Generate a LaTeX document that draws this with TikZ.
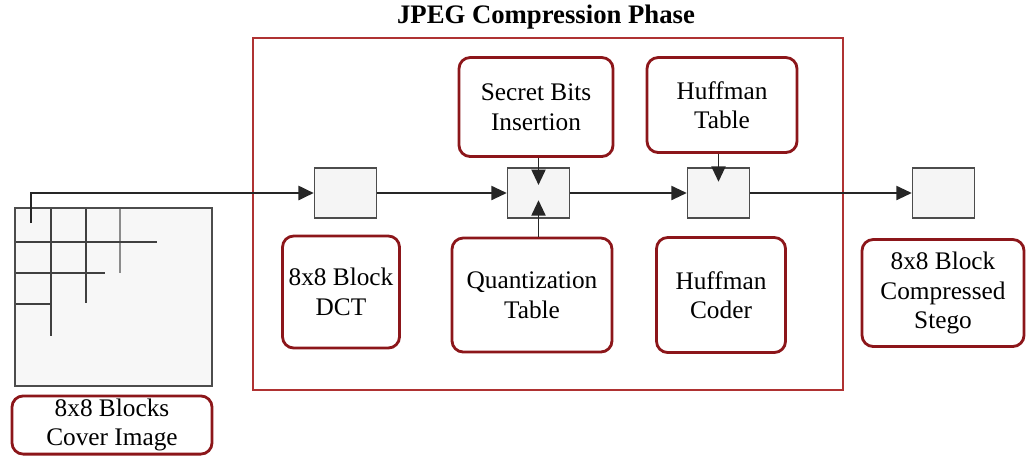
\documentclass[tikz,border=0pt]{standalone}
\usepackage{fontspec}
\setmainfont{Liberation Serif}
\usepackage{tikz}
\usetikzlibrary{arrows.meta,positioning,calc}
\usepackage{xcolor}
\definecolor{boxred}{RGB}{140,22,26}
\definecolor{framered}{RGB}{175,50,50}

\tikzset{
    redbox/.style={draw=boxred, line width=2pt, rounded corners=8pt, align=center,
        inner sep=2pt, font=\fontsize{18}{21}\selectfont},
    cell/.style={draw=black!70, fill=black!4, line width=1pt,
        minimum width=1.55cm, minimum height=1.25cm, inner sep=0pt},
    flow/.style={draw=black!85, line width=1.4pt, -{Triangle[length=11pt,width=10pt]}},
    gridline/.style={draw=black!75, line width=1.1pt}
}

\begin{document}
\begin{tikzpicture}[x=0.025cm, y=-0.025cm]
            \useasboundingbox (0,0) rectangle (1026,456);

            % JPEG compression phase frame
            \draw[framered, line width=1pt] (253,38) rectangle (843,390);
            \node[font=\bfseries\fontsize{19}{22}\selectfont] (title) at (546,17) {JPEG Compression Phase};

            % Cover image blocks
            \node[draw=black!70, fill=black!3, line width=1.2pt, minimum width=4.925cm, minimum height=4.45cm] (cover) at (113.5,297) {};
            \draw[gridline] (51,209) -- (51,336);
            \draw[gridline] (86,209) -- (86,303);
            \draw[gridline, black!45] (120,209) -- (120,273);
            \draw[gridline] (16,242) -- (157,242);
            \draw[gridline] (16,273) -- (105,273);
            \draw[gridline] (16,304) -- (51,304);
            \node[redbox, minimum width=5cm, minimum height=1.4cm] (coverlbl) at (112,425) {8x8 Blocks\\Cover Image};
            \coordinate (start) at (31,223);

            % Blocks along the pipeline
            \node[cell] (blk1) at (345.5,193) {};
            \node[cell] (blk2) at (538.5,193) {};
            \node[cell] (blk3) at (718.5,193) {};
            \node[cell] (blk4) at (943.5,193) {};

            % Stage labels
            \node[redbox, minimum width=3.85cm, minimum height=2.475cm] (secret) at (536,107) {Secret Bits\\Insertion};
            \node[redbox, minimum width=3.75cm, minimum height=2.375cm] (hufftab) at (722,105) {Huffman\\Table};
            \node[redbox, minimum width=2.925cm, minimum height=2.8cm] (dct) at (341,292) {8x8 Block\\DCT};
            \node[redbox, minimum width=4cm, minimum height=2.85cm] (quant) at (532,295) {Quantization\\Table};
            \node[redbox, minimum width=3.225cm, minimum height=2.875cm] (huffcod) at (721,295) {Huffman\\Coder};
            \node[redbox, minimum width=4.05cm, minimum height=2.675cm] (stego) at (943,293) {8x8 Block\\Compressed\\Stego};

            % Connectors
            \draw[flow, line width=2pt] (start) |- (blk1.west);
            \draw[flow] (blk1.east) -- (blk2.west);
            \draw[flow] (blk2.east) -- (blk3.west);
            \draw[flow] (blk3.east) -- (blk4.west);
            \draw[flow] (blk2.center |- secret.south) -- ([yshift=0.2cm]blk2.center);
            \draw[flow] (blk2.center |- quant.north) -- ([yshift=-0.18cm]blk2.center);
            \draw[flow] (blk3.center |- hufftab.south) -- ([yshift=0.28cm]blk3.center);
        \end{tikzpicture}
\end{document}
